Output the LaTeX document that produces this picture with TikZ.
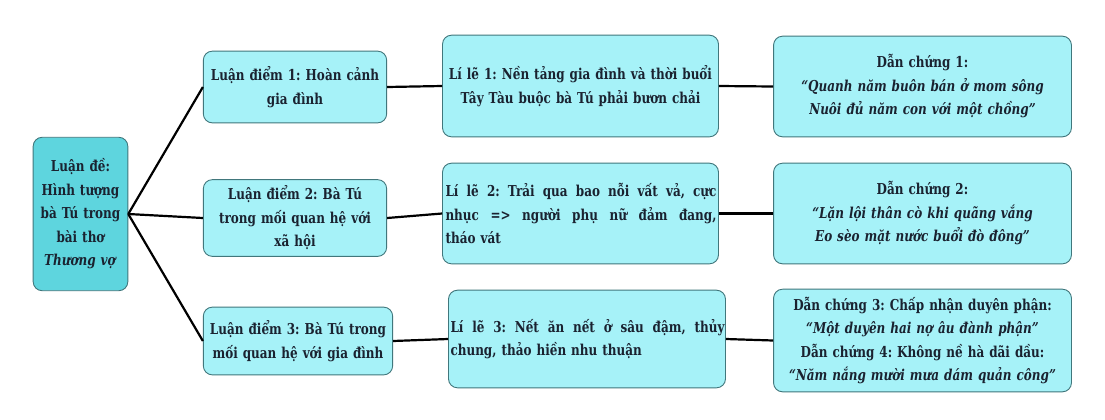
\documentclass[tikz,border=0pt]{standalone}
\usepackage{fontspec}
\setmainfont[FakeStretch=0.8]{DejaVu Serif}
\definecolor{rootfill}{HTML}{5ED5DE}
\definecolor{boxfill}{HTML}{A6F2F8}
\definecolor{boxline}{HTML}{41777C}
\definecolor{inktext}{HTML}{1A2230}
\newcommand{\jline}[2]{\makebox[#1][s]{\spaceskip=0.3em plus 1fil\relax #2}}
\begin{document}
\frenchspacing
\begin{tikzpicture}[
    x=1bp, y=-1bp,
    font=\fontsize{15bp}{23.5bp}\selectfont\bfseries\frenchspacing,
    box/.style={draw=boxline, fill=boxfill, text=inktext, line width=0.9bp, rounded corners=9bp, inner sep=2bp, align=center},
    rootbox/.style={box, fill=rootfill},
    link/.style={line width=2.2bp, black}
]

% Canvas
\path[use as bounding box, fill=white] (0,0) rectangle (1105,419);

% Thesis
\node[rootbox, minimum width=95, minimum height=154, text width=89] (thesis) at (80.5,214)
    {Luận đề:\\ Hình tượng\\ bà Tú trong\\ bài thơ\\ \textit{Thương vợ}};

% Arguments
\node[box, minimum width=184, minimum height=72, text width=178] (arg1) at (295,87)
    {Luận điểm 1: Hoàn cảnh\\ gia đình};
\node[box, minimum width=184, minimum height=77, text width=178] (arg2) at (295,218)
    {Luận điểm 2: Bà Tú\\ trong mối quan hệ với\\ xã hội};
\node[box, minimum width=190, minimum height=68, text width=184] (arg3) at (298,341)
    {Luận điểm 3: Bà Tú trong\\ mối quan hệ với gia đình};

% Reasons
\node[box, minimum width=277, minimum height=102, text width=271] (reason1) at (580.5,86)
    {Lí lẽ 1: Nền tảng gia đình và thời buổi\\ Tây Tàu buộc bà Tú phải bươn chải};
\node[box, align=left, minimum width=277, minimum height=101, text width=271] (reason2) at (580.5,213.5)
    {\jline{271bp}{Lí lẽ 2: Trải qua bao nỗi vất vả, cực}\\ \jline{271bp}{nhục => người phụ nữ đảm đang,}\\ tháo vát};
\node[box, align=left, minimum width=278, minimum height=98, text width=274] (reason3) at (587,339)
    {\jline{274bp}{Lí lẽ 3: Nết ăn nết ở sâu đậm, thủy}\\ chung, thảo hiền nhu thuận};

% Evidence
\node[box, minimum width=299, minimum height=101, text width=293] (proof1) at (922.5,86.5)
    {Dẫn chứng 1:\\ \textit{“Quanh năm buôn bán ở mom sông}\\ \textit{Nuôi đủ năm con với một chồng”}};
\node[box, minimum width=299, minimum height=101, text width=293] (proof2) at (922.5,213.5)
    {Dẫn chứng 2:\\ \textit{“Lặn lội thân cò khi quãng vắng}\\ \textit{Eo sèo mặt nước buổi đò đông”}};
\node[box, minimum width=299, minimum height=103, text width=293] (proof3) at (922.5,340.5)
    {Dẫn chứng 3: Chấp nhận duyên phận:\\ \textit{“Một duyên hai nợ âu đành phận”}\\ Dẫn chứng 4: Không nề hà dãi dầu:\\ \textit{“Năm nắng mười mưa dám quản công”}};

% Links
\draw[link] (thesis.east) -- (arg1.west);
\draw[link] (thesis.east) -- (arg2.west);
\draw[link] (thesis.east) -- (arg3.west);
\draw[link] (arg1.east) -- (reason1.west);
\draw[link] (arg2.east) -- (reason2.west);
\draw[link] (arg3.east) -- (reason3.west);
\draw[link] (reason1.east) -- (proof1.west);
\draw[link] (reason2.east) -- (proof2.west);
\draw[link] (reason3.east) -- (proof3.west);

\end{tikzpicture}
\end{document}
